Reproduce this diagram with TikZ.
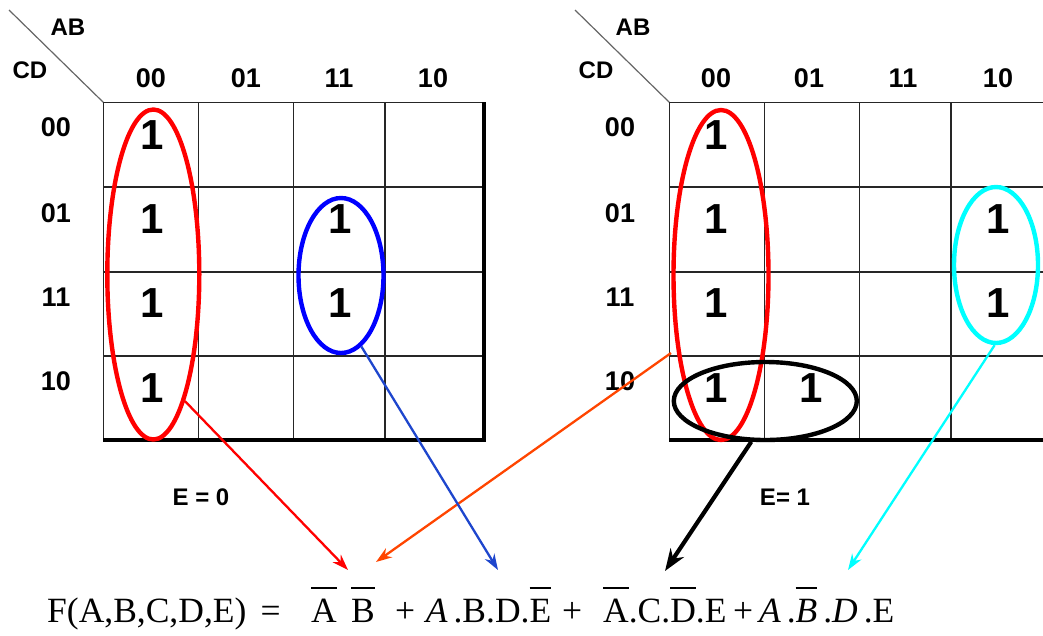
\documentclass[tikz,border=0pt]{standalone}
\usepackage{fontspec}
\setmainfont{Liberation Serif}
\setsansfont{Liberation Sans}
\usetikzlibrary{shapes.geometric,arrows.meta}
\definecolor{orangered}{RGB}{255,69,0}
\definecolor{arrblue}{RGB}{30,70,205}
\definecolor{aqua}{RGB}{0,255,255}
% bar raised well above the letter, as in the printed formula
\newcommand{\nbar}[1]{\leavevmode\setbox0\hbox{#1}\rlap{\raisebox{0.92em}{\rule{\wd0}{0.055em}}}\box0}
\begin{document}
\begin{tikzpicture}[x=1pt,y=-1pt,
    hdr/.style={font=\sffamily\bfseries\fontsize{27}{27}\selectfont},
    var/.style={font=\sffamily\bfseries\fontsize{24}{24}\selectfont},
    one/.style={font=\sffamily\bfseries\fontsize{42}{42}\selectfont},
    term/.style={font=\fontsize{35.5}{35.5}\selectfont,anchor=base west,inner sep=0pt},
    loop/.style={draw,ellipse,line width=4.4pt,inner sep=0pt},
    arr/.style={-{Stealth[length=16pt,width=11pt]},line width=2.3pt},
    grid/.style={line width=1.6pt,black!85},
    edge/.style={line width=3.2pt}]
\useasboundingbox (0,0) rectangle (1043,635);
% left map, E = 0
\draw[black!60,line width=1.2pt] (9,10) -- (103.3,102.3);
\node[var] (abL) at (68,27) {AB};
\node[var] (cdL) at (30,70) {CD};
\foreach \x in {103.3,198.3,293.3,385} \draw[grid] (\x,102.3) -- (\x,440);
\foreach \y in {102.3,186.7,271.7,355.7} \draw[grid] (103.3,\y) -- (484,\y);
\draw[edge] (103.3,440) -- (484,440) -- (484,102.3);
\foreach \x/\t in {151/00,246/01,339/11,433/10} \node[hdr] (colL\t) at (\x,78) {\t};
\foreach \y/\t in {127/00,213/01,297/11,381/10} \node[hdr] (rowL\t) at (56,\y) {\t};
\foreach \y in {135,219,303,388} \node[one] at (152,\y) {1};
\foreach \y in {219,303} \node[one] at (340,\y) {1};
\node[var] (eL) at (201,497) {E = 0};
% right map, E = 1
\draw[black!60,line width=1.2pt] (575,10) -- (669.3,102.3);
\node[var] (abR) at (633,27) {AB};
\node[var] (cdR) at (596,70) {CD};
\foreach \x in {669.3,764.3,859.3,950.7} \draw[grid] (\x,102.3) -- (\x,440);
\foreach \y in {102.3,186.7,271.7,355.7} \draw[grid] (669.3,\y) -- (1043,\y);
\draw[edge] (669.3,440) -- (1043,440);
\foreach \x/\t in {716/00,809/01,903/11,998/10} \node[hdr] (colR\t) at (\x,78) {\t};
\foreach \y/\t in {127/00,213/01,297/11,381/10} \node[hdr] (rowR\t) at (620,\y) {\t};
\foreach \y in {135,219,303,388} \node[one] at (716,\y) {1};
\node[one] at (811,388) {1};
\foreach \y in {219,303} \node[one] at (998,\y) {1};
\node[var] (eR) at (785,497) {E= 1};
% groups
\node[loop,red,minimum width=92pt,minimum height=330pt] (redL) at (153.3,274.5) {};
\node[loop,blue,minimum width=85pt,minimum height=155pt] (blueL) at (341,275.5) {};
\node[loop,red,minimum width=95pt,minimum height=330pt] (redR) at (721,275) {};
\node[loop,black,minimum width=183pt,minimum height=78pt] (blkR) at (765.3,401) {};
\node[loop,aqua,minimum width=84pt,minimum height=156pt] (cyanR) at (996,265) {};
% formula
\node[term] (fname) at (47,622) {F(A,B,C,D,E)\hspace{0.4em}=};
\node[term] (tA) at (311,622) {\nbar{A}};
\node[term] (tB) at (351,622) {\nbar{B}};
\node[term] (t2) at (395,622) {+\hspace{0.3em}\textit{A}\,.B.D.\nbar{E}};
\node[term] (p3) at (562,622) {+};
\node[term] (t3) at (603,622) {\nbar{A}.C.\nbar{D}.E};
\node[term] (t4) at (733,622) {+\,\textit{A}\,.\nbar{\textit{B}}\,.\textit{D}\,.E};
\coordinate (tipA) at (348,570);
\coordinate (tipB) at (376,562);
\coordinate (tipC) at (498,570);
\coordinate (tipD) at (665,571);
\coordinate (tipE) at (848,570);
\coordinate (fromR) at (671,353);
% arrows
\draw[arr,red] (redL.-76) -- (tipA);
\draw[arr,orangered] (fromR) -- (tipB);
\draw[arr,arrblue] (blueL.-74) -- (tipC);
\draw[arr,black,line width=4.2pt,-{Stealth[length=22pt,width=16pt]}] (blkR.-109) -- (tipD);
\draw[arr,aqua] (cyanR.-91) -- (tipE);
\end{tikzpicture}
\end{document}
